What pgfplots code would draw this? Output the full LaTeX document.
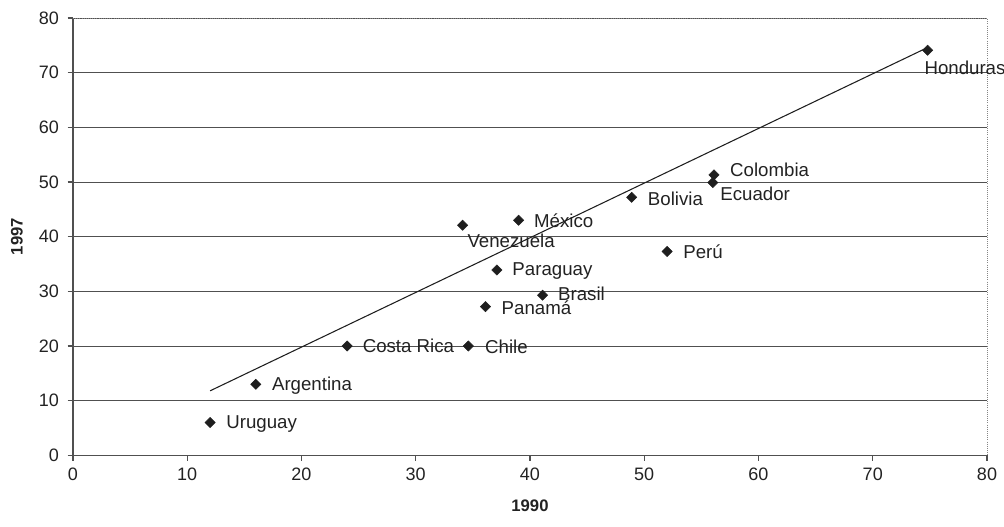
\documentclass[border=0pt]{standalone}
\usepackage{fontspec}
\setmainfont{Liberation Sans}
\usepackage{pgfplots}
\pgfplotsset{compat=1.18}
\usepackage{pgfplotstable}

\definecolor{ink}{HTML}{1E1E1E}
\definecolor{txt}{HTML}{222222}
\definecolor{grd}{HTML}{505050}

% x (1990), y (1997), label offsets in pt
\pgfplotstableread[col sep=comma]{
x,y,dx,dy,name
12,6,12,-1,Uruguay
16,13,12,-1,Argentina
24,20,11.5,0,Costa Rica
34.6,20,12.5,-0.5,Chile
36.1,27.2,12,-1,Panamá
37.1,33.9,11.5,-0.5,Paraguay
41.1,29.3,11.5,1,Brasil
39,43,11.5,0,México
34.1,42.1,3.5,-11.5,Venezuela
48.9,47.2,12,-1.5,Bolivia
52,37.3,12,0,Perú
56.1,51.3,12,3.5,Colombia
56,49.9,5.5,-8.5,Ecuador
74.8,74.1,-2.5,-13.5,Honduras
}\datatable

\begin{document}
\begin{tikzpicture}[font=\fontsize{13}{15}\selectfont]
\begin{axis}[
  scale only axis, width=685.5pt, height=328pt,
  xmin=0, xmax=80, ymin=0, ymax=80,
  xtick={0,10,...,80}, ytick={0,10,...,80},
  axis x line*=bottom, axis y line*=left,
  axis line style={grd, line width=0.8pt, -},
  tick style={grd, line width=0.8pt},
  tick align=outside, major tick length=4pt,
  ymajorgrids, grid style={grd, line width=0.7pt},
  /pgf/number format/assume math mode=true,
  tick label style={font=\fontsize{13.5}{15}\selectfont, text=txt},
  xticklabel style={yshift=-2pt},
  yticklabel style={xshift=-3pt},
  xlabel={\textbf{1990}}, ylabel={\textbf{1997}},
  x label style={at={(axis description cs:0.5,-0.1143)}, anchor=center, font=\fontsize{12.5}{14}\selectfont, text=txt},
  y label style={at={(axis description cs:-0.0613,0.5)}, anchor=center, font=\fontsize{12.5}{14}\selectfont, text=txt},
  clip=false,
]
% plot area border (top and right)
\draw[grd!70, densely dotted, line width=0.6pt] (rel axis cs:0,1) -- (rel axis cs:1,1) -- (rel axis cs:1,0);
% linear trend
\addplot[ink, line width=0.8pt, no marks] coordinates {(12,11.8) (74.8,74.6)};
\addplot[
  only marks, mark=square*, mark size=2.7pt,
  mark options={rotate=45, fill=ink, draw=ink},
  point meta=explicit symbolic,
  nodes near coords,
  visualization depends on={\thisrow{dx}\as\dx},
  visualization depends on={\thisrow{dy}\as\dy},
  every node near coord/.append style={anchor=west, inner sep=0pt, text=txt,
    xshift=\dx pt, yshift=\dy pt, font=\fontsize{14}{16}\selectfont},
] table[x=x, y=y, meta=name] {\datatable};
\end{axis}
\pgfresetboundingbox
\path (-54.75pt,-53.25pt) rectangle (698.25pt,341.5pt);
\end{tikzpicture}
\end{document}
